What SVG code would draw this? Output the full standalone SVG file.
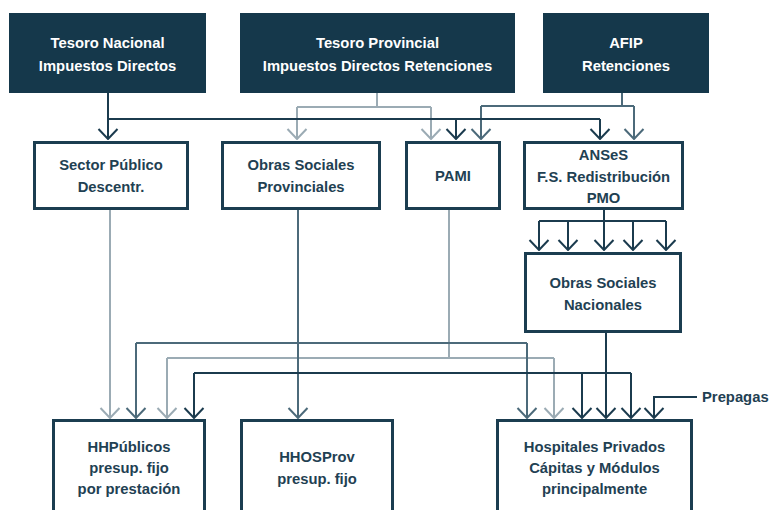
<svg xmlns="http://www.w3.org/2000/svg" width="769" height="510" viewBox="0 0 769 510">
<defs>
<style>
.top{fill:#15384b}
.box{fill:#ffffff;stroke:#1b3d50;stroke-width:3}
.tw{font-family:"Liberation Sans",Arial,sans-serif;font-weight:700;font-size:14.8px;fill:#ffffff;text-anchor:middle}
.td{font-family:"Liberation Sans",Arial,sans-serif;font-weight:700;font-size:14.8px;fill:#1f4153;text-anchor:middle}
.c{fill:none;stroke-width:2}
.dk{stroke:#1b3b4e}
.md{stroke:#4c6a7a}
.lt{stroke:#9babb4}
.m{fill:none;stroke-width:2}
</style>
<marker id="aDk" markerUnits="userSpaceOnUse" viewBox="0 0 12 22" markerWidth="12" markerHeight="22" refX="11" refY="11" orient="auto"><path class="m" d="M1,1.5 L11,11 L1,20.5" stroke="#1b3b4e"/></marker>
<marker id="aMd" markerUnits="userSpaceOnUse" viewBox="0 0 12 22" markerWidth="12" markerHeight="22" refX="11" refY="11" orient="auto"><path class="m" d="M1,1.5 L11,11 L1,20.5" stroke="#4c6a7a"/></marker>
<marker id="aLt" markerUnits="userSpaceOnUse" viewBox="0 0 12 22" markerWidth="12" markerHeight="22" refX="11" refY="11" orient="auto"><path class="m" d="M1,1.5 L11,11 L1,20.5" stroke="#9babb4"/></marker>
</defs>
<rect width="769" height="510" fill="#ffffff"/>

<g id="connectors">
<path class="c lt" d="M377,93 V107"/>
<path class="c lt" d="M297,107 H431" />
<path class="c lt" d="M297,107 V139" marker-end="url(#aLt)"/>
<path class="c lt" d="M431,107 V139" marker-end="url(#aLt)"/>
<path class="c md" d="M622,93 V106"/>
<path class="c md" d="M481,106 H634"/>
<path class="c md" d="M481,106 V139" marker-end="url(#aMd)"/>
<path class="c md" d="M634,106 V139" marker-end="url(#aMd)"/>
<path class="c dk" d="M108,93 V139" marker-end="url(#aDk)"/>
<path class="c dk" d="M108,119 H600"/>
<path class="c dk" d="M456,119 V139" marker-end="url(#aDk)"/>
<path class="c dk" d="M600,119 V139" marker-end="url(#aDk)"/>
<path class="c dk" d="M604,210 V221 M539,221 H666"/>
<path class="c dk" d="M539,221 V250" marker-end="url(#aDk)"/>
<path class="c dk" d="M568,221 V250" marker-end="url(#aDk)"/>
<path class="c dk" d="M604,221 V250" marker-end="url(#aDk)"/>
<path class="c dk" d="M633,221 V250" marker-end="url(#aDk)"/>
<path class="c dk" d="M666,221 V250" marker-end="url(#aDk)"/>
<path class="c lt" d="M110,210 V418" marker-end="url(#aLt)"/>
<path class="c lt" d="M449,210 V358 M167,358 H554"/>
<path class="c lt" d="M167,358 V418" marker-end="url(#aLt)"/>
<path class="c lt" d="M554,358 V418" marker-end="url(#aLt)"/>
<path class="c md" d="M298,210 V418" marker-end="url(#aMd)"/>
<path class="c md" d="M136,343 H527"/>
<path class="c md" d="M136,343 V418" marker-end="url(#aMd)"/>
<path class="c md" d="M527,343 V418" marker-end="url(#aMd)"/>
<path class="c dk" d="M606,333 V418" marker-end="url(#aDk)"/>
<path class="c dk" d="M194,373 H631"/>
<path class="c dk" d="M194,373 V418" marker-end="url(#aDk)"/>
<path class="c dk" d="M582,373 V418" marker-end="url(#aDk)"/>
<path class="c dk" d="M631,373 V418" marker-end="url(#aDk)"/>
<path class="c dk" d="M697,397 H654 V418" marker-end="url(#aDk)"/>
</g>

<g id="tesoro-nacional">
<rect class="top" x="9" y="13" width="197" height="80"/>
<text class="tw" x="107.5" y="48">Tesoro Nacional</text>
<text class="tw" x="107.5" y="71">Impuestos Directos</text>
</g>
<g id="tesoro-provincial">
<rect class="top" x="240" y="13" width="275" height="80"/>
<text class="tw" x="377.5" y="48">Tesoro Provincial</text>
<text class="tw" x="377.5" y="71">Impuestos Directos Retenciones</text>
</g>
<g id="afip">
<rect class="top" x="543" y="13" width="166" height="80"/>
<text class="tw" x="626" y="48">AFIP</text>
<text class="tw" x="626" y="71">Retenciones</text>
</g>

<g id="sector-publico">
<rect class="box" x="34.5" y="142.5" width="153" height="66"/>
<text class="td" x="111" y="170">Sector Público</text>
<text class="td" x="111" y="192">Descentr.</text>
</g>
<g id="obras-sociales-provinciales">
<rect class="box" x="222.5" y="142.5" width="157" height="66"/>
<text class="td" x="301" y="170">Obras Sociales</text>
<text class="td" x="301" y="192">Provinciales</text>
</g>
<g id="pami">
<rect class="box" x="406.5" y="142.5" width="93" height="66"/>
<text class="td" x="453" y="181">PAMI</text>
</g>
<g id="anses">
<rect class="box" x="524.5" y="142.5" width="158" height="66"/>
<text class="td" x="603.5" y="160">ANSeS</text>
<text class="td" x="603.5" y="182">F.S. Redistribución</text>
<text class="td" x="603.5" y="203">PMO</text>
</g>
<g id="obras-sociales-nacionales">
<rect class="box" x="525.5" y="253.5" width="155" height="78"/>
<text class="td" x="603" y="288">Obras Sociales</text>
<text class="td" x="603" y="310">Nacionales</text>
</g>

<g id="hhpublicos">
<rect class="box" x="53.5" y="420.5" width="151" height="100"/>
<text class="td" x="129" y="452">HHPúblicos</text>
<text class="td" x="129" y="473">presup. fijo</text>
<text class="td" x="129" y="494">por prestación</text>
</g>
<g id="hhosprov">
<rect class="box" x="241.5" y="420.5" width="151" height="100"/>
<text class="td" x="317" y="462">HHOSProv</text>
<text class="td" x="317" y="484">presup. fijo</text>
</g>
<g id="hospitales-privados">
<rect class="box" x="497.5" y="420.5" width="194" height="100"/>
<text class="td" x="594.5" y="452">Hospitales Privados</text>
<text class="td" x="594.5" y="473">Cápitas y Módulos</text>
<text class="td" x="594.5" y="494">principalmente</text>
</g>
<g id="prepagas">
<text class="td" x="702" y="402" style="text-anchor:start">Prepagas</text>
</g>
</svg>
